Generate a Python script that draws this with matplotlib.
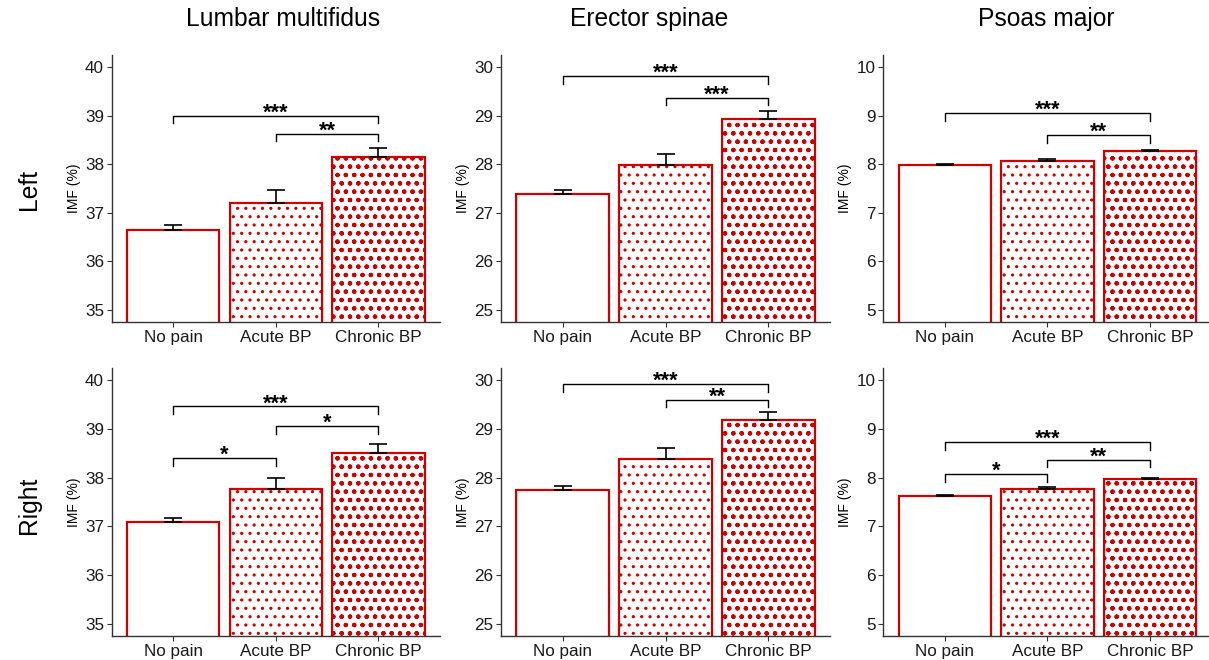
import matplotlib
matplotlib.use('Agg')
import matplotlib.pyplot as plt
import numpy as np

plt.rcParams['font.family'] = ['Liberation Sans', 'DejaVu Sans']

# ---------------- data ----------------
groups = ['No pain', 'Acute BP', 'Chronic BP']
muscles = ['Lumbar multifidus', 'Erector spinae', 'Psoas major']
sides = ['Left', 'Right']

lm_left_mean = [36.65, 37.21, 38.15]
lm_left_se = [0.09, 0.25, 0.18]
es_left_mean = [27.39, 27.99, 28.94]
es_left_se = [0.08, 0.22, 0.16]
pm_left_mean = [7.99, 8.07, 8.27]
pm_left_se = [0.01, 0.04, 0.03]

lm_right_mean = [37.08, 37.76, 38.51]
lm_right_se = [0.09, 0.24, 0.18]
es_right_mean = [27.75, 28.38, 29.18]
es_right_se = [0.08, 0.22, 0.16]
pm_right_mean = [7.62, 7.77, 7.97]
pm_right_se = [0.02, 0.04, 0.02]

y_ranges = [(35, 40), (25, 30), (5, 10)]

# significance brackets: (group a, group b, bracket height, label)
lm_left_sig = [(0, 2, 39.00, '***'), (1, 2, 38.63, '**')]
es_left_sig = [(0, 2, 29.82, '***'), (1, 2, 29.37, '***')]
pm_left_sig = [(0, 2, 9.05, '***'), (1, 2, 8.60, '**')]
lm_right_sig = [(0, 1, 38.40, '*'), (0, 2, 39.46, '***'), (1, 2, 39.06, '*')]
es_right_sig = [(0, 2, 29.92, '***'), (1, 2, 29.60, '**')]
pm_right_sig = [(0, 1, 8.07, '*'), (0, 2, 8.73, '***'), (1, 2, 8.37, '**')]

means = [[lm_left_mean, es_left_mean, pm_left_mean],
         [lm_right_mean, es_right_mean, pm_right_mean]]
ses = [[lm_left_se, es_left_se, pm_left_se],
       [lm_right_se, es_right_se, pm_right_se]]
sigs = [[lm_left_sig, es_left_sig, pm_left_sig],
        [lm_right_sig, es_right_sig, pm_right_sig]]

# ---------------- style ----------------
RED = '#CC0000'
AXC = '#333333'
hatches = [None, '..', 'oo..']
hatch_lw = [1.0, 1.1, 0.8]
tip = 0.16

W, H = 1209, 660
fig = plt.figure(figsize=(W / 100, H / 100), dpi=100)

cols_px = [(111.7, 440.0), (501.0, 830.0), (883.3, 1211.6)]
rows_px = [(55.0, 322.0), (368.0, 636.0)]


def add_px_axes(l, t, r, b):
    return fig.add_axes([l / W, 1 - b / H, (r - l) / W, (b - t) / H])


x = np.arange(1, len(groups) + 1)

for ri, (top, bot) in enumerate(rows_px):
    for ci, (left, right) in enumerate(cols_px):
        ax = add_px_axes(left, top, right, bot)
        lo, hi = y_ranges[ci]
        m = means[ri][ci]
        s = ses[ri][ci]
        bars = ax.bar(x, m, width=0.9, color='white', edgecolor=RED,
                      linewidth=1.6, zorder=2)
        for k, p in enumerate(bars.patches):
            if hatches[k]:
                p.set_hatch(hatches[k])
                if hasattr(p, 'set_hatch_linewidth'):
                    p.set_hatch_linewidth(hatch_lw[k])
        ax.errorbar(x, m, yerr=[np.zeros(len(s)), s], fmt='none',
                    ecolor='black', elinewidth=1.2, capsize=6.5,
                    capthick=1.2, zorder=3)
        for a, b, yb, lab in sigs[ri][ci]:
            xa, xb = x[a], x[b]
            ax.plot([xa, xa, xb, xb], [yb - tip, yb, yb, yb - tip],
                    color='black', lw=1.0, zorder=4, clip_on=False)
            ax.annotate(lab, xy=((xa + xb) / 2, yb), xytext=(0, -2),
                        textcoords='offset points', ha='center',
                        va='baseline', fontsize=15.5, fontweight='bold',
                        color='black', zorder=5)
        ax.set_xlim(0.4, 3.6)
        ax.set_ylim(lo - 0.25, hi + 0.25)
        ax.set_yticks(np.arange(lo, hi + 1))
        ax.set_xticks(x)
        ax.set_xticklabels(groups)
        for sp in ['top', 'right']:
            ax.spines[sp].set_visible(False)
        for sp in ['left', 'bottom']:
            ax.spines[sp].set_color(AXC)
            ax.spines[sp].set_linewidth(1.0)
        ax.tick_params(axis='both', labelsize=12.3, labelcolor='#1a1a1a',
                       color=AXC, length=3.5, width=0.8, pad=2)
        ax.set_ylabel('IMF (%)', fontsize=10, color='black', labelpad=3)

for ci, (left, right) in enumerate(cols_px):
    cx = [283, 649, 1046][ci]
    fig.text(cx / W, 1 - 19 / H, muscles[ci], fontsize=17.7, ha='center',
             va='center', color='black')

for ri, side in enumerate(sides):
    cy = [189, 505][ri]
    fig.text(29 / W, 1 - cy / H, side, fontsize=17.7, rotation=90,
             ha='center', va='center', color='black')

fig.savefig('out.png', dpi=100)
